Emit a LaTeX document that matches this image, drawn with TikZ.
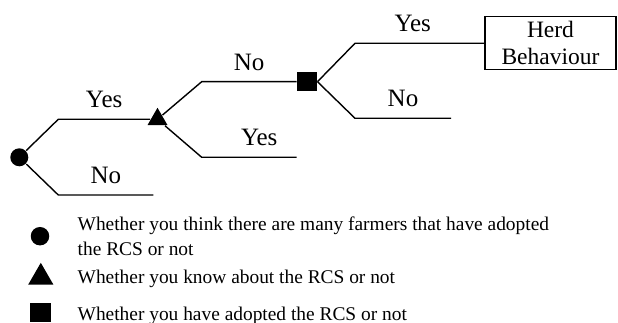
\documentclass[tikz,border=0pt]{standalone}
\usepackage{fontspec}
\setmainfont{Liberation Serif}
\usetikzlibrary{shapes.geometric}

\begin{document}
\begin{tikzpicture}[x=1pt, y=-1pt, line width=1.4pt,
    dot/.style={circle, fill=black, minimum size=18pt, inner sep=0pt},
    tri/.style={regular polygon, regular polygon sides=3, fill=black, minimum size=23pt, inner sep=0pt},
    sq/.style={rectangle, fill=black, minimum size=19.5pt, inner sep=0pt},
    outcome/.style={draw=black, line width=1.2pt, minimum width=131pt, minimum height=53pt, align=center, font=\fontsize{23.5}{27}\selectfont},
    ans/.style={midway, above=7.2pt, font=\fontsize{25}{29}\selectfont},
    legend/.style={anchor=west, align=left, inner sep=0pt, font=\fontsize{19.4}{25}\selectfont}
  ]
  \useasboundingbox (0,0) rectangle (618,323);

  % Decision nodes manually positioned
  \node[dot] (think) at (19.3,157.3) {};
  \node[tri] (know) at (157.5,119.3) {};
  \node[sq] (adopt) at (307,81.7) {};
  \node[outcome] (herd) at (550.5,43.3) {Herd\\Behaviour};

  % Elbows and loose branch ends
  \coordinate (e1) at (58.3,119.3);
  \coordinate (e2) at (58.3,195);
  \coordinate (n1) at (153.3,195);
  \coordinate (e3) at (201.7,81.7);
  \coordinate (e4) at (201.7,157.3);
  \coordinate (n2) at (296.7,157.3);
  \coordinate (e5) at (355,43.3);
  \coordinate (e6) at (355,118.3);
  \coordinate (n3) at (451,118.3);

  % Branches with answers
  \draw (think) -- (e1) -- (know) node[ans] {Yes};
  \draw (think) -- (e2) -- (n1) node[ans] {No};

  \draw (know) -- (e3) -- (adopt) node[ans] {No};
  \draw (know) -- (e4) -- (n2) node[ans, xshift=10pt] {Yes};

  \draw (adopt.east) -- (e5) -- (herd) node[ans, xshift=-7pt] {Yes};
  \draw (adopt.east) -- (e6) -- (n3) node[ans] {No};

  % Key
  \node[dot, minimum size=18.5pt] (kthink) at (40,236.2) {};
  \node[tri, minimum size=29pt] (kknow) at (40.8,277.3) {};
  \node[sq, minimum width=21pt, minimum height=19pt] (kadopt) at (40,312.5) {};

  \node[legend] (tthink) at (77,236) {Whether you think there are many farmers that have adopted\\the RCS or not};
  \node[legend, anchor=base west] (tknow) at (77,283.3) {Whether you know about the RCS or not};
  \node[legend, anchor=base west] (tadopt) at (77,320) {Whether you have adopted the RCS or not};

\end{tikzpicture}
\end{document}
